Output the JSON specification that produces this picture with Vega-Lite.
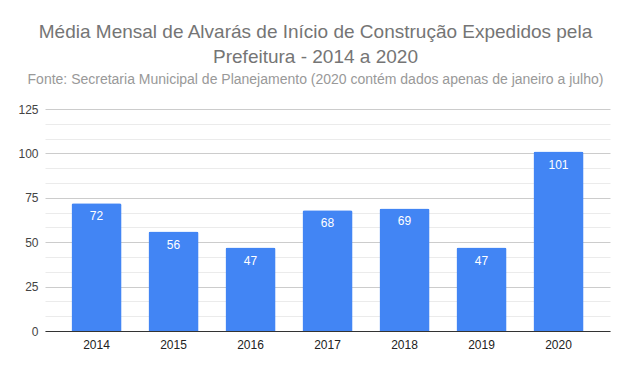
{
  "$schema": "https://vega.github.io/schema/vega-lite/v6.json",
  "width": 565,
  "height": 222,
  "autosize": {"type": "none"},
  "padding": {"left": 45, "top": 109, "right": 18, "bottom": 40},
  "background": "#ffffff",
  "title": {
    "text": ["Média Mensal de Alvarás de Início de Construção Expedidos pela", "Prefeitura - 2014 a 2020"],
    "subtitle": "Fonte: Secretaria Municipal de Planejamento (2020 contém dados apenas de janeiro a julho)",
    "anchor": "middle",
    "frame": "group",
    "dx": -12,
    "font": "Liberation Sans",
    "fontSize": 19,
    "fontWeight": "normal",
    "color": "#757575",
    "lineHeight": 25,
    "subtitleFont": "Liberation Sans",
    "subtitleFontSize": 14,
    "subtitleColor": "#999999",
    "subtitlePadding": 6,
    "offset": 16
  },
  "data": {
    "values": [
      {"ano": "2014", "media": 72},
      {"ano": "2015", "media": 56},
      {"ano": "2016", "media": 47},
      {"ano": "2017", "media": 68},
      {"ano": "2018", "media": 69},
      {"ano": "2019", "media": 47},
      {"ano": "2020", "media": 101}
    ]
  },
  "encoding": {
    "x": {
      "field": "ano",
      "type": "nominal",
      "scale": {"paddingInner": 0.35, "paddingOuter": 0.344},
      "axis": {
        "title": null,
        "labelAngle": 0,
        "labelFont": "Liberation Sans",
        "labelFontSize": 12,
        "labelColor": "#222222",
        "labelPadding": 8,
        "ticks": false,
        "domainColor": "#333333",
        "domainWidth": 1
      }
    },
    "y": {
      "field": "media",
      "type": "quantitative",
      "scale": {"domain": [0, 125], "nice": false},
      "axis": {
        "title": null,
        "values": [0, 8.3333, 16.6667, 25, 33.3333, 41.6667, 50, 58.3333, 66.6667, 75, 83.3333, 91.6667, 100, 108.3333, 116.6667, 125],
        "labelExpr": "datum.value % 25 === 0 ? datum.label : ''",
        "labelFont": "Liberation Sans",
        "labelFontSize": 12,
        "labelColor": "#444444",
        "labelPadding": 7,
        "ticks": false,
        "domain": false,
        "gridColor": {"condition": {"test": "datum.value % 25 === 0", "value": "#cccccc"}, "value": "#ebebeb"},
        "gridWidth": 1
      }
    }
  },
  "layer": [
    {
      "mark": {"type": "bar", "color": "#4285f4", "cornerRadiusTopLeft": 2, "cornerRadiusTopRight": 2}
    },
    {
      "mark": {"type": "text", "color": "#ffffff", "font": "Liberation Sans", "fontSize": 12, "baseline": "middle", "dy": 13},
      "encoding": {"text": {"field": "media", "type": "quantitative"}}
    }
  ],
  "config": {"view": {"stroke": null}}
}
